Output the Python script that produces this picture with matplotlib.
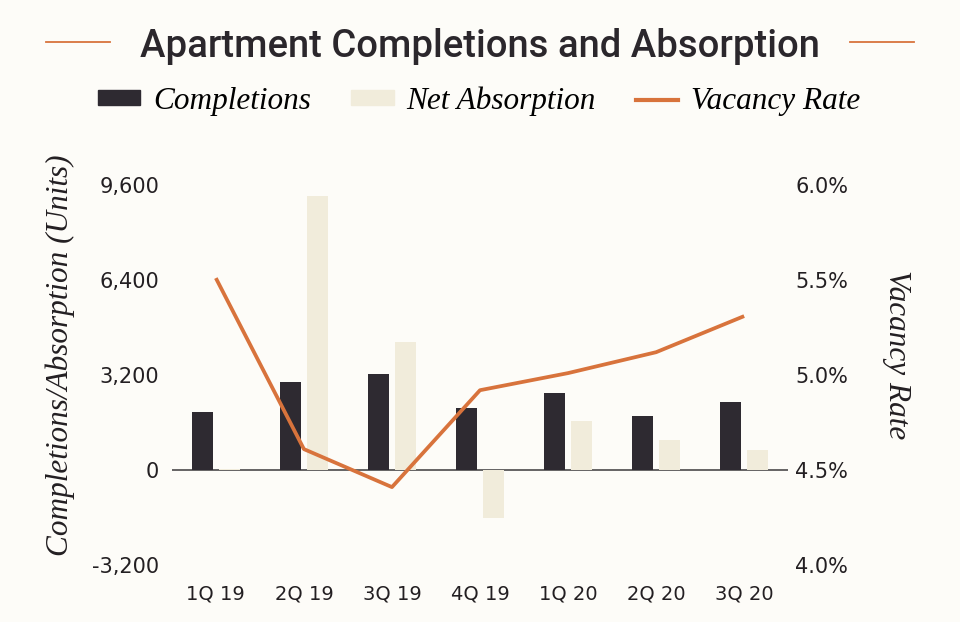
import matplotlib.pyplot as plt
from matplotlib.patches import Patch
from matplotlib.lines import Line2D
import numpy as np

# donnees
quarters = ['1Q 19', '2Q 19', '3Q 19', '4Q 19', '1Q 20', '2Q 20', '3Q 20']
completions = [1970, 2950, 3220, 2080, 2610, 1830, 2290]
absorption = [40, 9230, 4300, -1630, 1660, 1000, 680]
vacancy = [5.51, 4.61, 4.41, 4.92, 5.01, 5.12, 5.31]

left_ticks = [-3200, 0, 3200, 6400, 9600]
right_ticks = [4.0, 4.5, 5.0, 5.5, 6.0]

bg = '#fdfcf8'
dark = '#2e2a31'
cream = '#f1ecdb'
orange = '#d8733c'
txt = '#231f22'

serif_it = dict(family='Liberation Serif', style='italic', color=txt)

fig = plt.figure(figsize=(9.6, 6.22), dpi=100, facecolor=bg)
ax = fig.add_axes([0.179, 0.0916, 0.642, 0.611], facecolor=bg)

x = np.arange(len(quarters))
w = 0.244
ax.axhline(0, color='#3b3a3c', lw=1.1, zorder=1)
ax.bar(x - 0.153, completions, w, color=dark, zorder=2)
ax.bar(x + 0.153, absorption, w, color=cream, zorder=2)

ax.set_xlim(-0.5, 6.5)
ax.set_ylim(-3200, 9600)
ax.set_yticks(left_ticks)
ax.set_yticklabels(['{:,}'.format(t) for t in left_ticks])
ax.set_xticks(x)
ax.set_xticklabels(quarters)
ax.tick_params(axis='y', length=0, pad=9, labelsize=15, labelcolor=txt)
ax.tick_params(axis='x', length=0, pad=14, labelsize=14, labelcolor=txt)
for s in ax.spines.values():
    s.set_visible(False)
ax.set_ylabel('Completions/Absorption (Units)', fontsize=22.5, va='center', **serif_it)
ax.yaxis.set_label_coords(-0.181, 0.553)

ax2 = ax.twinx()
ax2.plot(x, vacancy, color=orange, lw=2.7, solid_capstyle='butt', zorder=3)
ax2.set_ylim(4.0, 6.0)
ax2.set_yticks(right_ticks)
ax2.set_yticklabels(['%.1f%%' % t for t in right_ticks])
ax2.tick_params(axis='y', length=0, pad=5, labelsize=15, labelcolor=txt)
for s in ax2.spines.values():
    s.set_visible(False)
ax2.set_ylabel('Vacancy Rate', fontsize=22.5, rotation=270, va='center', **serif_it)
ax2.yaxis.set_label_coords(1.176, 0.553)

# titre avec les deux traits orange
fig.text(0.5, 1 - 57 / 622, 'Apartment Completions and Absorption', ha='center',
         va='baseline', fontsize=27.5, family='Roboto', weight='medium', color='#2b272c')
fig.add_artist(Line2D([46 / 960, 110 / 960], [1 - 42 / 622] * 2, color=orange, lw=1.3))
fig.add_artist(Line2D([850 / 960, 914 / 960], [1 - 42 / 622] * 2, color=orange, lw=1.3))

handles = [Patch(color=dark), Patch(color=cream), Line2D([], [], color=orange, lw=3)]
fig.legend(handles, ['Completions', 'Net Absorption', 'Vacancy Rate'], loc='center',
           bbox_to_anchor=(0.499, 1 - 101 / 622), ncol=3, frameon=False,
           handlelength=1.35, handleheight=0.33, handletextpad=0.4, columnspacing=1.3,
           borderpad=0, prop=dict(family='Liberation Serif', style='italic', size=22.5))

fig.savefig('out.png', dpi=100, facecolor=bg)
